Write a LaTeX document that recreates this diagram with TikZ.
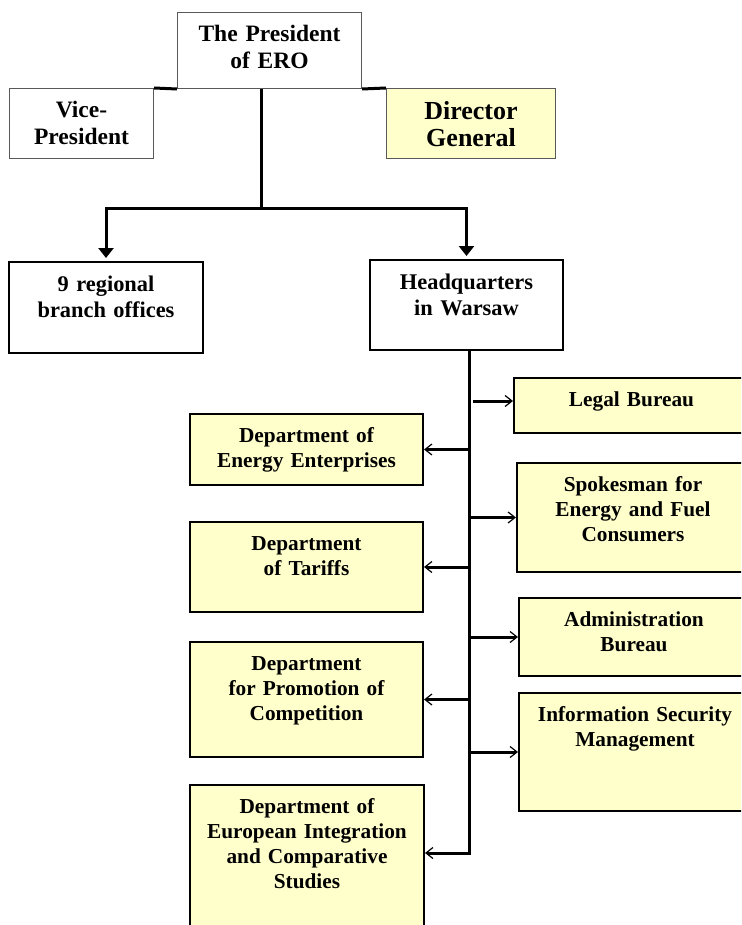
\documentclass[tikz,border=0pt]{standalone}
\usepackage{fontspec}
\setmainfont{Liberation Serif}
\usetikzlibrary{positioning, calc, arrows.meta}

\definecolor{boxyellow}{RGB}{255,255,204}

\tikzset{
    topbox/.style={draw=black!65, line width=1pt, fill=white, anchor=north west,
        align=center, inner sep=0pt, text height=29pt,
        font=\bfseries\fontsize{23.5}{27}\selectfont},
    officebox/.style={draw, line width=2pt, fill=white, anchor=north west,
        align=center, inner sep=0pt, text height=29pt,
        font=\bfseries\fontsize{22.4}{26}\selectfont},
    deptbox/.style={draw, line width=2pt, fill=boxyellow, anchor=north west,
        align=center, inner sep=0pt, text height=28pt,
        font=\bfseries\fontsize{21.3}{25}\selectfont},
    link/.style={line width=3pt},
    down/.style={link, -{Triangle[length=10pt, width=15pt]}, shorten >=3pt},
    side/.style={link, -{Straight Barb[length=7pt, width=11pt, line width=1.2pt]}},
}

\begin{document}
\begin{tikzpicture}[x=1pt, y=-1pt]

    \path[use as bounding box] (0,0) rectangle (741,925);
    \clip (0,0) rectangle (741,925);

    % top level
    \node[topbox, text width=184pt, text depth=47pt] (pres) at (177,12) {The President\\of ERO};
    \node[topbox, text width=144pt, text depth=41pt] (vice) at (9,88) {Vice-\\President};
    \node[topbox, fill=boxyellow, text width=169pt, text height=31pt, text depth=39pt,
        font=\bfseries\fontsize{26}{27.5}\selectfont] (dirgen) at (386,88) {Director\\General};

    \draw[link] (vice.north east) -- (pres.south west);
    \draw[link] (pres.south east) -- (dirgen.north west);

    % offices
    \node[officebox, text width=194pt, text depth=62pt] (regional) at (8,261) {9 regional\\branch offices};
    \node[officebox, text width=193pt, text depth=61pt] (hq) at (369,259) {Headquarters\\in Warsaw};

    \coordinate (bus) at (261,209);
    \draw[link] (pres.south -| bus) -- (bus);
    \draw[down] (bus) -| (regional.north);
    \draw[down] (bus) -| (hq.north);

    % departments (left)
    \node[deptbox, text width=233pt, text depth=43pt] (energy) at (189,413) {Department of\\Energy Enterprises};
    \node[deptbox, text width=233pt, text depth=62pt] (tariffs) at (189,521) {Department\\of Tariffs};
    \node[deptbox, text width=233pt, text depth=87pt] (promo) at (189,641) {Department\\for Promotion of\\Competition};
    \node[deptbox, text width=234pt, text depth=131pt] (europe) at (189,784) {Department of\\European Integration\\and Comparative\\Studies};

    % bureaus (right)
    \node[deptbox, text width=235pt, text depth=27pt] (legal) at (513,377) {Legal Bureau};
    \node[deptbox, text width=232pt, text depth=81pt] (spokes) at (516,462) {Spokesman for\\Energy and Fuel\\Consumers};
    \node[deptbox, text width=230pt, text depth=50pt] (admin) at (518,597) {Administration\\Bureau};
    \node[deptbox, text width=232pt, text depth=90pt] (infosec) at (518,692) {Information Security\\Management};

    % spine below headquarters
    \coordinate (spine) at (469,853);
    \draw[side] (hq.south -| spine) -- (spine) -- (spine -| europe.east);

    \coordinate (tolegal) at (473,401);
    \draw[side] (tolegal) -- (tolegal -| legal.west);
    \draw[side] (spine |- energy.east) -- (energy.east);
    \draw[side] (spine |- spokes.west) -- (spokes.west);
    \draw[side] (spine |- tariffs.east) -- (tariffs.east);
    \draw[side] (spine |- admin.west) -- (admin.west);
    \draw[side] (spine |- promo.east) -- (promo.east);
    \draw[side] (spine |- infosec.west) -- (infosec.west);

\end{tikzpicture}
\end{document}
